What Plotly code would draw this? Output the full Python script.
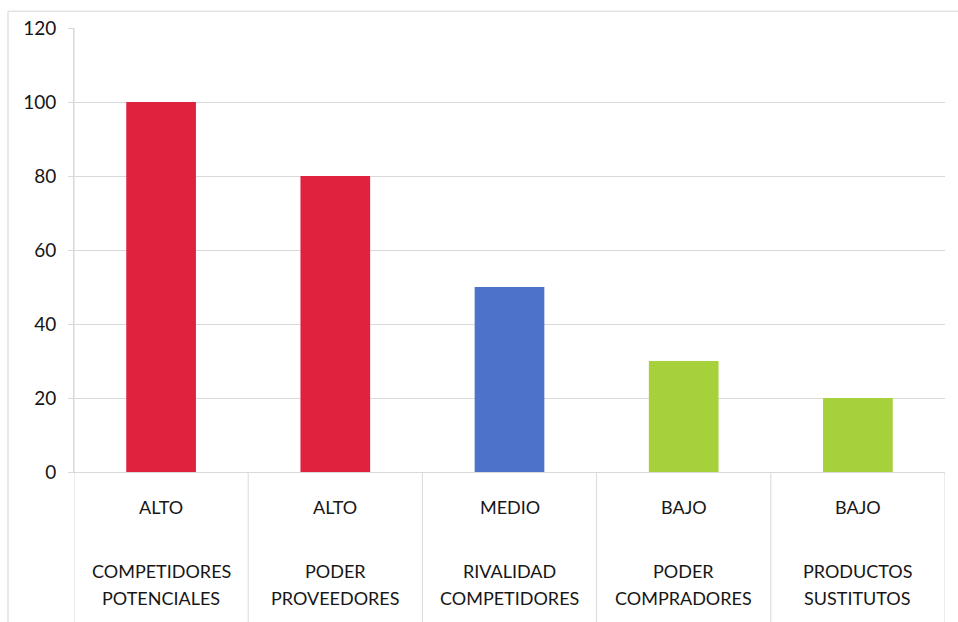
import plotly.graph_objects as go

levels = ["ALTO", "ALTO", "MEDIO", "BAJO", "BAJO"]
forces = [["COMPETIDORES", "POTENCIALES"], ["PODER", "PROVEEDORES"], ["RIVALIDAD", "COMPETIDORES"],
          ["PODER", "COMPRADORES"], ["PRODUCTOS", "SUSTITUTOS"]]
values = [100, 80, 50, 30, 20]
colors = ["#E0223F", "#E0223F", "#4D72C9", "#A6D13B", "#A6D13B"]
y_ticks = [0, 20, 40, 60, 80, 100, 120]

xs = list(range(len(values)))
FONT = "Lato, Calibri, Carlito, sans-serif"
GRID = "#D9D9D9"
TXT = "#161616"

fig = go.Figure(go.Bar(x=xs, y=values, marker=dict(color=colors, line=dict(width=0)), width=0.4))

shapes = []
# category separators extending below the axis
for i in range(len(values)):
    shapes.append(dict(type="line", xref="x", yref="paper", x0=i + 0.5, x1=i + 0.5, y0=0, y1=-0.36,
                       line=dict(color=GRID, width=1)))
shapes.append(dict(type="line", xref="x", yref="paper", x0=-0.5, x1=-0.5, y0=1, y1=-0.36,
                   line=dict(color=GRID, width=1)))
# outer chart border
shapes.append(dict(type="line", xref="paper", yref="paper", x0=-0.0758, x1=1.02, y0=1.038, y1=1.038,
                   line=dict(color="#E3E3E3", width=1.5)))
shapes.append(dict(type="line", xref="paper", yref="paper", x0=-0.0758, x1=-0.0758, y0=1.038, y1=-0.36,
                   line=dict(color="#E3E3E3", width=1.5)))

annotations = []
line_y = [-0.223, -0.284]
for i, (lv, fc) in enumerate(zip(levels, forces)):
    annotations.append(dict(x=i, xref="x", y=-0.079, yref="paper", text=lv, showarrow=False,
                            font=dict(family=FONT, size=18, color=TXT), yanchor="middle"))
    for ly, part in zip(line_y, fc):
        annotations.append(dict(x=i, xref="x", y=ly, yref="paper", text=part, showarrow=False,
                                font=dict(family=FONT, size=18, color=TXT), yanchor="middle"))

fig.update_layout(
    width=958, height=622,
    margin=dict(l=74, r=13, t=28, b=150),
    plot_bgcolor="white", paper_bgcolor="white",
    showlegend=False,
    shapes=shapes, annotations=annotations,
    xaxis=dict(range=[-0.5, len(values) - 0.5], showticklabels=False, showgrid=False, zeroline=False,
               showline=True, linecolor=GRID, linewidth=1, ticks=""),
    yaxis=dict(range=[0, 120], tickvals=y_ticks, showgrid=True, gridcolor=GRID, gridwidth=1,
               zeroline=False, showline=True, linecolor=GRID, linewidth=1,
               ticks="outside", ticklen=5, tickcolor=GRID, ticklabelstandoff=8,
               tickfont=dict(family=FONT, size=19, color=TXT)),
    font=dict(family=FONT),
)

fig.write_html("out.html")
